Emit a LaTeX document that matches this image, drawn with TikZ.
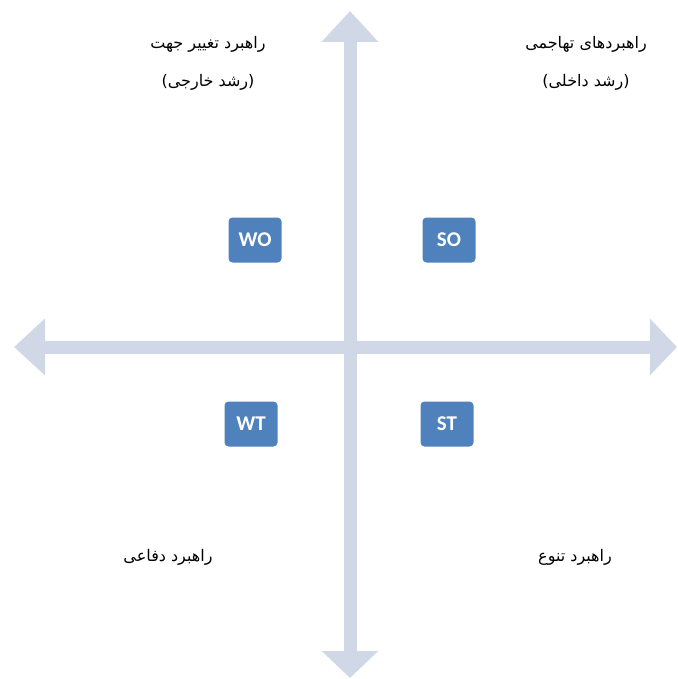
\documentclass[tikz,border=0pt]{standalone}
\usepackage{fontspec}
\usepackage{tikz}
\usetikzlibrary{arrows.meta, positioning}
\TeXXeTstate=1
\newfontfamily\arabicfont[Script=Arabic]{DejaVu Sans}
\newfontfamily\boxfont{Carlito}
\definecolor{axisgray}{RGB}{208,216,232}
\definecolor{boxblue}{RGB}{79,129,189}
\tikzset{
  axis/.style={line width=13pt, color=axisgray,
    {Triangle[width=55pt, length=31pt]}-{Triangle[width=55pt, length=27pt]}},
  quad/.style={rectangle, fill=boxblue, text=white, rounded corners=4pt,
    minimum width=53pt, minimum height=45pt, font=\boxfont\bfseries\fontsize{21}{23}\selectfont},
  label/.style={font=\arabicfont\fontsize{16}{18}\selectfont, align=center}
}
\begin{document}
\begin{tikzpicture}[x=1pt, y=-1pt]
  \useasboundingbox (0,0) rectangle (677,679);
  % axes
  \coordinate (west) at (14,347);
  \coordinate (east) at (677,347);
  \coordinate (north) at (350,11);
  \coordinate (south) at (350,678);
  \draw[axis] (west) -- (east);
  \draw[axis] (north) -- (south);

  % strategy boxes
  \node[quad] (wo) at (255,240) {WO};
  \node[quad] (so) at (449,240) {SO};
  \node[quad] (wt) at (251,424) {WT};
  \node[quad] (st) at (447,424) {ST};

  % quadrant labels
  \node[label] (wotext) at (208,44) {\beginR راهبرد تغییر جهت\endR};
  \node[label] (wosub) at (208,82) {\beginR (رشد خارجی)\endR};
  \node[label] (sotext) at (586,44) {\beginR راهبردهای تهاجمی\endR};
  \node[label] (sosub) at (586,82) {\beginR (رشد داخلی)\endR};
  \node[label] (wttext) at (168,557) {\beginR راهبرد دفاعی\endR};
  \node[label] (sttext) at (575,557) {\beginR راهبرد تنوع\endR};
\end{tikzpicture}
\end{document}
